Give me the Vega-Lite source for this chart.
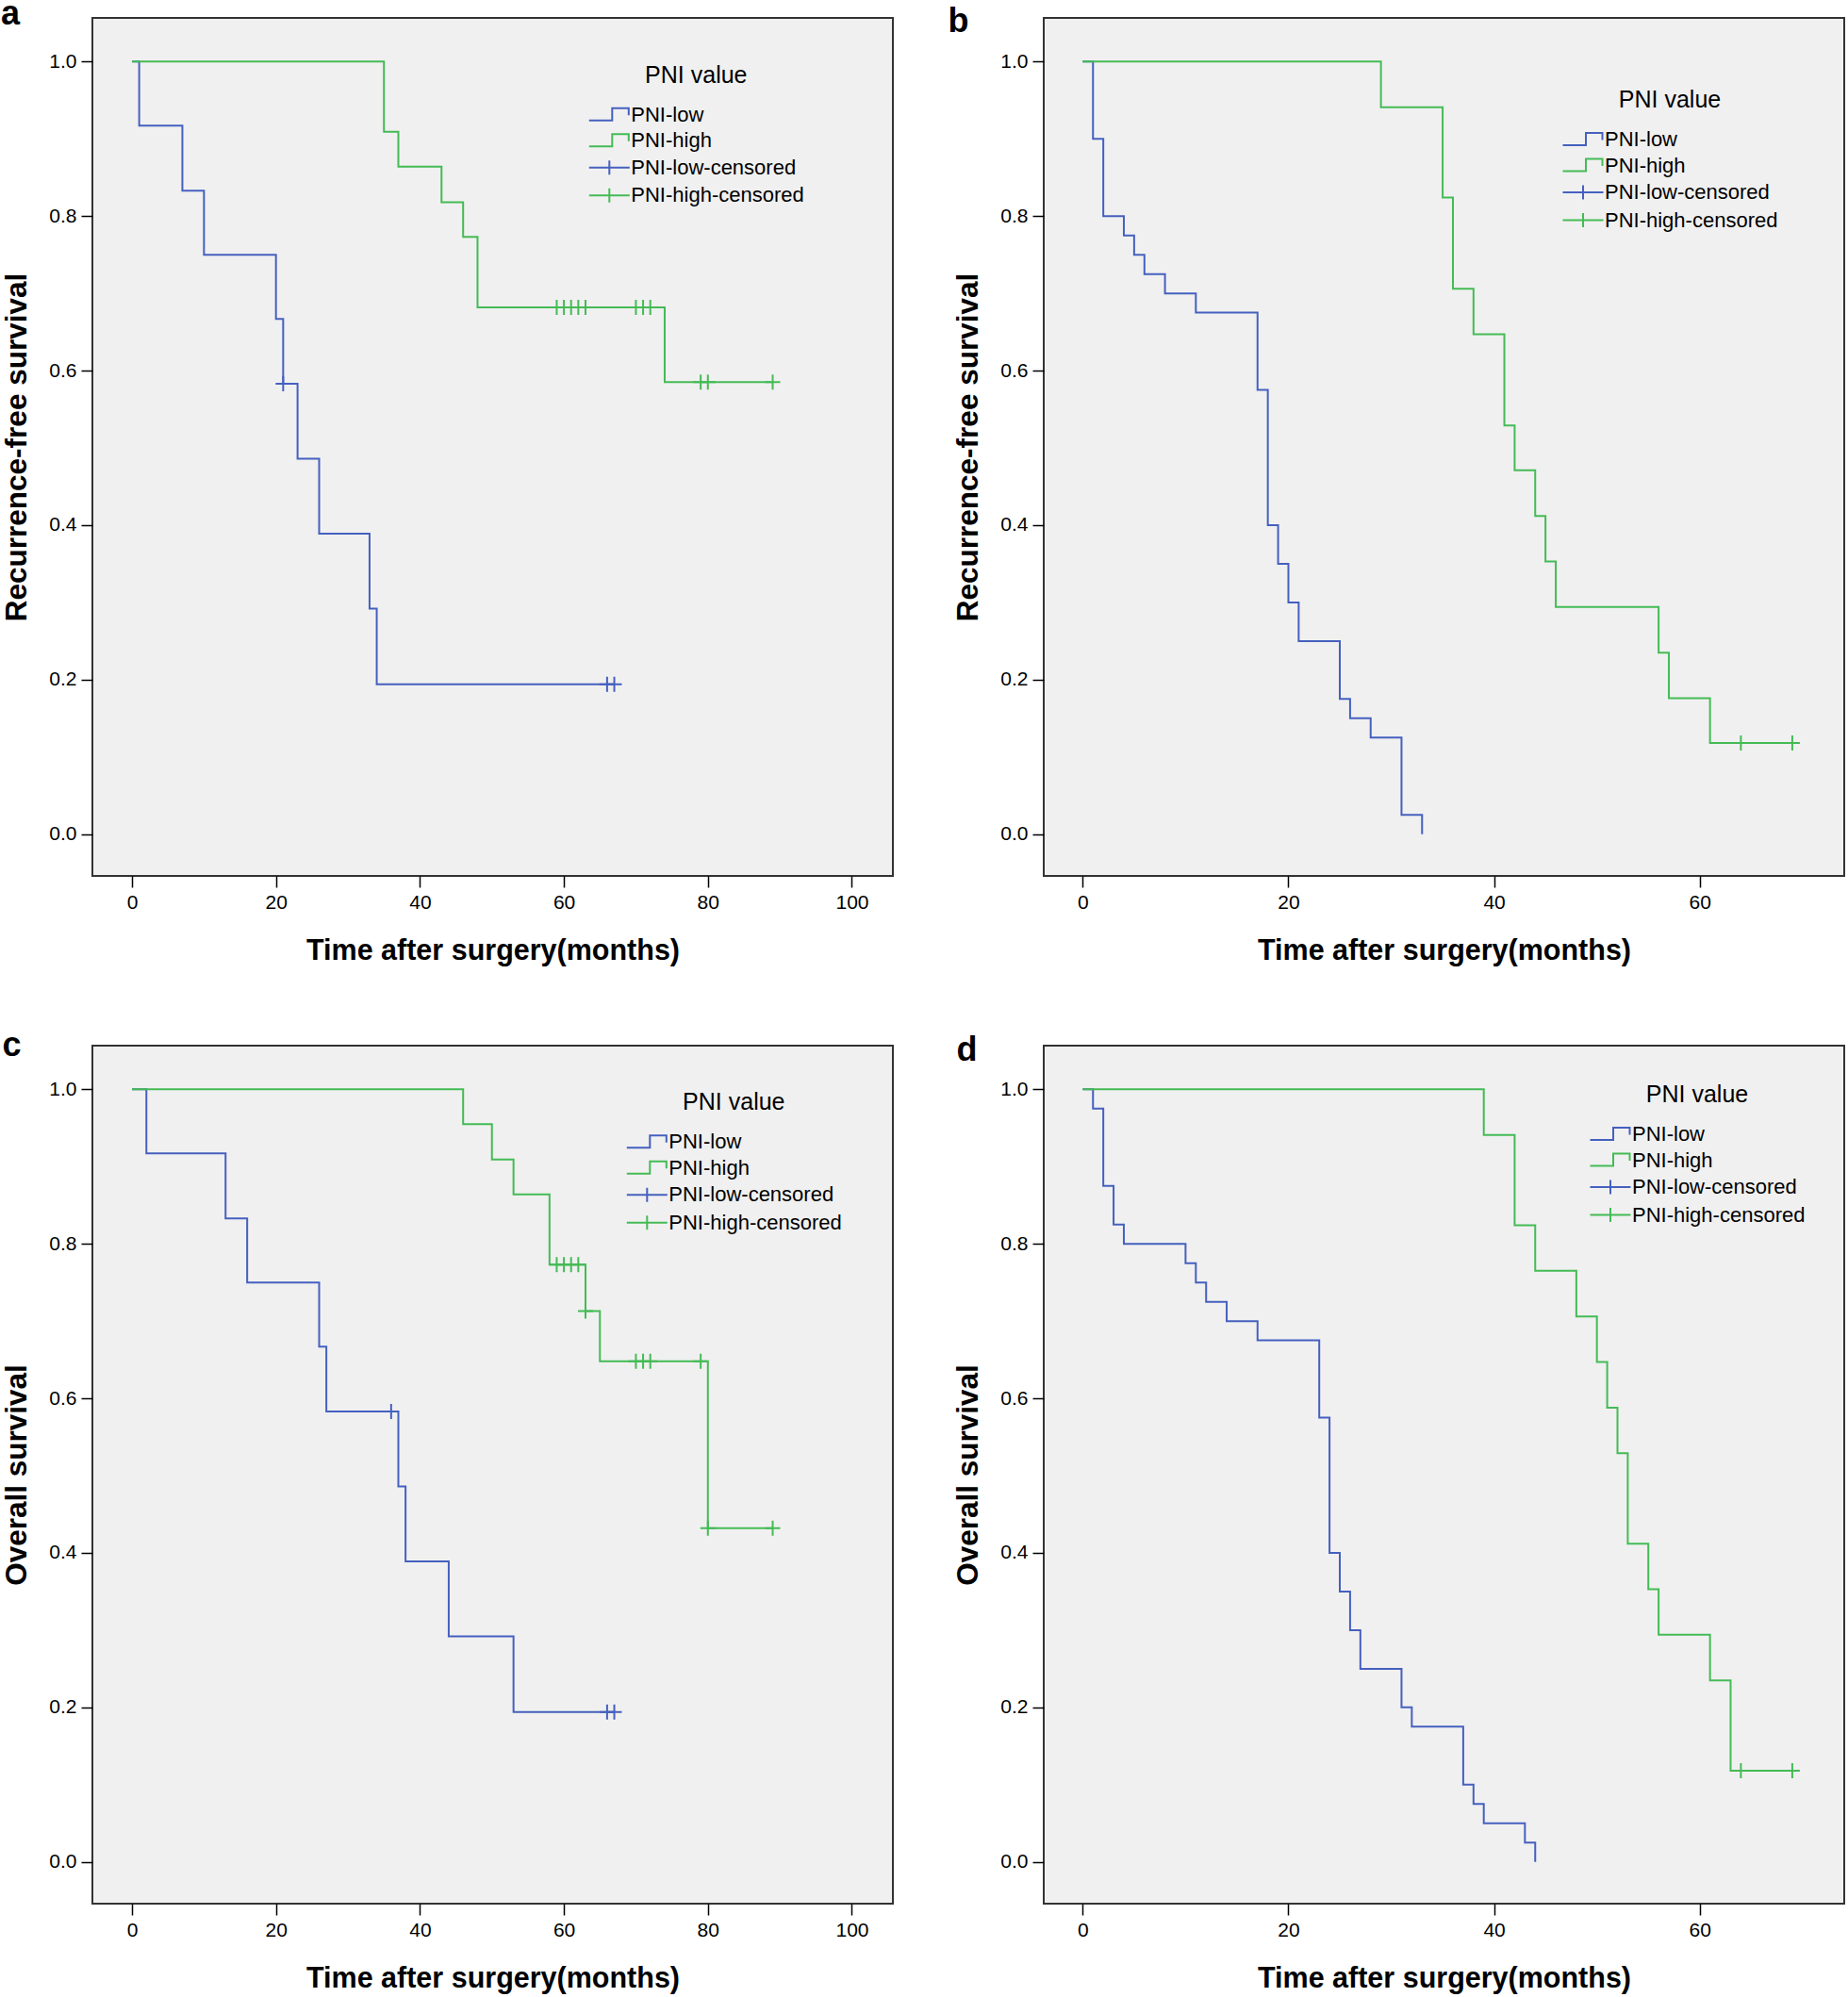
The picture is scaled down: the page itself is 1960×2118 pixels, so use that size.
{
  "$schema": "https://vega.github.io/schema/vega-lite/v6.json",
  "background": "white",
  "padding": {"left": 0, "top": -4, "right": 0, "bottom": 0},
  "autosize": {"type": "pad"},
  "bounds": "flush",
  "columns": 2,
  "spacing": {"row": 180, "column": 160},
  "resolve": {"scale": {"color": "independent"}, "legend": {"color": "independent"}},
  "config": {
    "view": {"stroke": "#333333", "strokeWidth": 2, "fill": "#f0f0f0"},
    "axis": {
      "grid": false, "domain": false, "tickColor": "#000000", "tickSize": 12, "tickWidth": 1.5,
      "labelFont": "Liberation Sans", "labelFontSize": 21, "labelColor": "#000000", "labelPadding": 5,
      "titleFont": "Liberation Sans", "titleFontSize": 30.5, "titleFontWeight": "bold", "titleColor": "#000000"
    },
    "axisLeft": {"titleFontSize": 31.5},
    "legend": {
      "orient": "none", "padding": 0,
      "titleFont": "Liberation Sans", "titleFontSize": 25, "titleFontWeight": "normal", "titleColor": "#000000",
      "titleAnchor": "middle", "titlePadding": 18, "titleLimit": 400,
      "labelFont": "Liberation Sans", "labelFontSize": 22, "labelColor": "#000000", "labelOffset": 12, "labelLimit": 400,
      "symbolSize": 400, "symbolStrokeWidth": 2, "rowPadding": 5.5
    },
    "title": {"font": "Liberation Sans", "fontSize": 36, "fontWeight": "bold", "color": "#000000", "anchor": "start", "frame": "group", "offset": 0, "baseline": "alphabetic"}
  },
  "datasets": {
    "a_lines": [
      {"series": "PNI-low", "t": 0, "s": 1}, {"series": "PNI-low", "t": 1, "s": 0.917}, {"series": "PNI-low", "t": 7, "s": 0.833},
      {"series": "PNI-low", "t": 10, "s": 0.75}, {"series": "PNI-low", "t": 20, "s": 0.667}, {"series": "PNI-low", "t": 21, "s": 0.583},
      {"series": "PNI-low", "t": 23, "s": 0.486}, {"series": "PNI-low", "t": 26, "s": 0.389}, {"series": "PNI-low", "t": 33, "s": 0.292},
      {"series": "PNI-low", "t": 34, "s": 0.194}, {"series": "PNI-low", "t": 67, "s": 0.194},
      {"series": "PNI-high", "t": 0, "s": 1}, {"series": "PNI-high", "t": 35, "s": 0.909}, {"series": "PNI-high", "t": 37, "s": 0.864},
      {"series": "PNI-high", "t": 43, "s": 0.818}, {"series": "PNI-high", "t": 46, "s": 0.773}, {"series": "PNI-high", "t": 48, "s": 0.682},
      {"series": "PNI-high", "t": 74, "s": 0.585}, {"series": "PNI-high", "t": 89, "s": 0.585}
    ],
    "a_cens": [
      {"series": "PNI-low-censored", "t": 21, "s": 0.583}, {"series": "PNI-low-censored", "t": 66, "s": 0.194}, {"series": "PNI-low-censored", "t": 67, "s": 0.194},
      {"series": "PNI-high-censored", "t": 59, "s": 0.682}, {"series": "PNI-high-censored", "t": 60, "s": 0.682}, {"series": "PNI-high-censored", "t": 61, "s": 0.682},
      {"series": "PNI-high-censored", "t": 62, "s": 0.682}, {"series": "PNI-high-censored", "t": 63, "s": 0.682}, {"series": "PNI-high-censored", "t": 70, "s": 0.682},
      {"series": "PNI-high-censored", "t": 71, "s": 0.682}, {"series": "PNI-high-censored", "t": 72, "s": 0.682}, {"series": "PNI-high-censored", "t": 79, "s": 0.585},
      {"series": "PNI-high-censored", "t": 80, "s": 0.585}, {"series": "PNI-high-censored", "t": 89, "s": 0.585}
    ],
    "b_lines": [
      {"series": "PNI-low", "t": 0, "s": 1}, {"series": "PNI-low", "t": 1, "s": 0.9}, {"series": "PNI-low", "t": 2, "s": 0.8},
      {"series": "PNI-low", "t": 4, "s": 0.775}, {"series": "PNI-low", "t": 5, "s": 0.75}, {"series": "PNI-low", "t": 6, "s": 0.725},
      {"series": "PNI-low", "t": 8, "s": 0.7}, {"series": "PNI-low", "t": 11, "s": 0.675}, {"series": "PNI-low", "t": 17, "s": 0.575},
      {"series": "PNI-low", "t": 18, "s": 0.4}, {"series": "PNI-low", "t": 19, "s": 0.35}, {"series": "PNI-low", "t": 20, "s": 0.3},
      {"series": "PNI-low", "t": 21, "s": 0.25}, {"series": "PNI-low", "t": 25, "s": 0.175}, {"series": "PNI-low", "t": 26, "s": 0.15},
      {"series": "PNI-low", "t": 28, "s": 0.125}, {"series": "PNI-low", "t": 31, "s": 0.025}, {"series": "PNI-low", "t": 33, "s": 0},
      {"series": "PNI-high", "t": 0, "s": 1}, {"series": "PNI-high", "t": 29, "s": 0.941}, {"series": "PNI-high", "t": 35, "s": 0.824},
      {"series": "PNI-high", "t": 36, "s": 0.706}, {"series": "PNI-high", "t": 38, "s": 0.647}, {"series": "PNI-high", "t": 41, "s": 0.529},
      {"series": "PNI-high", "t": 42, "s": 0.471}, {"series": "PNI-high", "t": 44, "s": 0.412}, {"series": "PNI-high", "t": 45, "s": 0.353},
      {"series": "PNI-high", "t": 46, "s": 0.294}, {"series": "PNI-high", "t": 56, "s": 0.235}, {"series": "PNI-high", "t": 57, "s": 0.176},
      {"series": "PNI-high", "t": 61, "s": 0.118}, {"series": "PNI-high", "t": 69, "s": 0.118}
    ],
    "b_cens": [
      {"series": "PNI-high-censored", "t": 64, "s": 0.118}, {"series": "PNI-high-censored", "t": 69, "s": 0.118}
    ],
    "c_lines": [
      {"series": "PNI-low", "t": 0, "s": 1}, {"series": "PNI-low", "t": 2, "s": 0.917}, {"series": "PNI-low", "t": 13, "s": 0.833},
      {"series": "PNI-low", "t": 16, "s": 0.75}, {"series": "PNI-low", "t": 26, "s": 0.667}, {"series": "PNI-low", "t": 27, "s": 0.583},
      {"series": "PNI-low", "t": 37, "s": 0.486}, {"series": "PNI-low", "t": 38, "s": 0.389}, {"series": "PNI-low", "t": 44, "s": 0.292},
      {"series": "PNI-low", "t": 53, "s": 0.194}, {"series": "PNI-low", "t": 67, "s": 0.194},
      {"series": "PNI-high", "t": 0, "s": 1}, {"series": "PNI-high", "t": 46, "s": 0.955}, {"series": "PNI-high", "t": 50, "s": 0.909},
      {"series": "PNI-high", "t": 53, "s": 0.864}, {"series": "PNI-high", "t": 58, "s": 0.773}, {"series": "PNI-high", "t": 63, "s": 0.713},
      {"series": "PNI-high", "t": 65, "s": 0.648}, {"series": "PNI-high", "t": 80, "s": 0.432}, {"series": "PNI-high", "t": 89, "s": 0.432}
    ],
    "c_cens": [
      {"series": "PNI-low-censored", "t": 36, "s": 0.583}, {"series": "PNI-low-censored", "t": 66, "s": 0.194}, {"series": "PNI-low-censored", "t": 67, "s": 0.194},
      {"series": "PNI-high-censored", "t": 59, "s": 0.773}, {"series": "PNI-high-censored", "t": 60, "s": 0.773}, {"series": "PNI-high-censored", "t": 61, "s": 0.773},
      {"series": "PNI-high-censored", "t": 62, "s": 0.773}, {"series": "PNI-high-censored", "t": 63, "s": 0.713}, {"series": "PNI-high-censored", "t": 70, "s": 0.648},
      {"series": "PNI-high-censored", "t": 71, "s": 0.648}, {"series": "PNI-high-censored", "t": 72, "s": 0.648}, {"series": "PNI-high-censored", "t": 79, "s": 0.648},
      {"series": "PNI-high-censored", "t": 80, "s": 0.432}, {"series": "PNI-high-censored", "t": 89, "s": 0.432}
    ],
    "d_lines": [
      {"series": "PNI-low", "t": 0, "s": 1}, {"series": "PNI-low", "t": 1, "s": 0.975}, {"series": "PNI-low", "t": 2, "s": 0.875},
      {"series": "PNI-low", "t": 3, "s": 0.825}, {"series": "PNI-low", "t": 4, "s": 0.8}, {"series": "PNI-low", "t": 10, "s": 0.775},
      {"series": "PNI-low", "t": 11, "s": 0.75}, {"series": "PNI-low", "t": 12, "s": 0.725}, {"series": "PNI-low", "t": 14, "s": 0.7},
      {"series": "PNI-low", "t": 17, "s": 0.675}, {"series": "PNI-low", "t": 23, "s": 0.575}, {"series": "PNI-low", "t": 24, "s": 0.4},
      {"series": "PNI-low", "t": 25, "s": 0.35}, {"series": "PNI-low", "t": 26, "s": 0.3}, {"series": "PNI-low", "t": 27, "s": 0.25},
      {"series": "PNI-low", "t": 31, "s": 0.2}, {"series": "PNI-low", "t": 32, "s": 0.175}, {"series": "PNI-low", "t": 37, "s": 0.1},
      {"series": "PNI-low", "t": 38, "s": 0.075}, {"series": "PNI-low", "t": 39, "s": 0.05}, {"series": "PNI-low", "t": 43, "s": 0.025},
      {"series": "PNI-low", "t": 44, "s": 0},
      {"series": "PNI-high", "t": 0, "s": 1}, {"series": "PNI-high", "t": 39, "s": 0.941}, {"series": "PNI-high", "t": 42, "s": 0.824},
      {"series": "PNI-high", "t": 44, "s": 0.765}, {"series": "PNI-high", "t": 48, "s": 0.706}, {"series": "PNI-high", "t": 50, "s": 0.647},
      {"series": "PNI-high", "t": 51, "s": 0.588}, {"series": "PNI-high", "t": 52, "s": 0.529}, {"series": "PNI-high", "t": 53, "s": 0.412},
      {"series": "PNI-high", "t": 55, "s": 0.353}, {"series": "PNI-high", "t": 56, "s": 0.294}, {"series": "PNI-high", "t": 61, "s": 0.235},
      {"series": "PNI-high", "t": 63, "s": 0.118}, {"series": "PNI-high", "t": 69, "s": 0.118}
    ],
    "d_cens": [
      {"series": "PNI-high-censored", "t": 64, "s": 0.118}, {"series": "PNI-high-censored", "t": 69, "s": 0.118}
    ]
  },
  "concat": [
    {
      "width": 849, "height": 910,
      "title": {"text": "a", "dx": -97, "dy": 19},
      "encoding": {
        "x": {"field": "t", "type": "quantitative", "scale": {"domain": [-5.5, 105.7], "nice": false, "zero": false},
              "axis": {"title": "Time after surgery(months)", "values": [0, 20, 40, 60, 80, 100], "format": "d", "titleY": 88.5, "titleBaseline": "alphabetic"}},
        "y": {"field": "s", "type": "quantitative", "scale": {"domain": [-0.054, 1.0565], "nice": false, "zero": false},
              "axis": {"title": "Recurrence-free survival", "values": [0, 0.2, 0.4, 0.6, 0.8, 1.0], "format": ".1f", "titleX": -71, "titleBaseline": "alphabetic"}},
        "color": {"field": "series", "type": "nominal",
                  "scale": {"domain": ["PNI-low", "PNI-high", "PNI-low-censored", "PNI-high-censored"], "range": ["#4560bf", "#44bb55", "#4560bf", "#44bb55"]},
                  "legend": {"title": "PNI value", "legendX": 537.3, "legendY": 48.8,
                             "encode": {"title": {"update": {"dx": {"value": -6}}},
                                        "symbols": {"update": {"shape": {"signal": "indexof(datum.value, 'censored') >= 0 ? 'M-2.15,0H2.15M0,-0.75V0.75' : 'M-2.15,0.6H0.3V-0.7H2.05V0.05'"}, "fill": {"value": "transparent"}, "strokeWidth": {"value": 2}}}}}}
      },
      "layer": [
        {"data": {"name": "a_lines"}, "mark": {"type": "line", "interpolate": "step-after", "strokeWidth": 2}},
        {"data": {"name": "a_cens"}, "mark": {"type": "point", "shape": "M-0.8,0H0.8M0,-0.8V0.8", "size": 400, "filled": false, "strokeWidth": 2, "opacity": 1}}
      ]
    },
    {
      "width": 849, "height": 910,
      "title": {"text": "b", "dx": -101.5, "dy": 26.5},
      "encoding": {
        "x": {"field": "t", "type": "quantitative", "scale": {"domain": [-3.79, 74.05], "nice": false, "zero": false},
              "axis": {"title": "Time after surgery(months)", "values": [0, 20, 40, 60], "format": "d", "titleY": 88.5, "titleBaseline": "alphabetic"}},
        "y": {"field": "s", "type": "quantitative", "scale": {"domain": [-0.054, 1.0565], "nice": false, "zero": false},
              "axis": {"title": "Recurrence-free survival", "values": [0, 0.2, 0.4, 0.6, 0.8, 1.0], "format": ".1f", "titleX": -71, "titleBaseline": "alphabetic"}},
        "color": {"field": "series", "type": "nominal",
                  "scale": {"domain": ["PNI-low", "PNI-high", "PNI-low-censored", "PNI-high-censored"], "range": ["#4560bf", "#44bb55", "#4560bf", "#44bb55"]},
                  "legend": {"title": "PNI value", "legendX": 561, "legendY": 75,
                             "encode": {"title": {"update": {"dx": {"value": -6}}},
                                        "symbols": {"update": {"shape": {"signal": "indexof(datum.value, 'censored') >= 0 ? 'M-2.15,0H2.15M0,-0.75V0.75' : 'M-2.15,0.6H0.3V-0.7H2.05V0.05'"}, "fill": {"value": "transparent"}, "strokeWidth": {"value": 2}}}}}}
      },
      "layer": [
        {"data": {"name": "b_lines"}, "mark": {"type": "line", "interpolate": "step-after", "strokeWidth": 2}},
        {"data": {"name": "b_cens"}, "mark": {"type": "point", "shape": "M-0.8,0H0.8M0,-0.8V0.8", "size": 400, "filled": false, "strokeWidth": 2, "opacity": 1}}
      ]
    },
    {
      "width": 849, "height": 910,
      "title": {"text": "c", "dx": -95.5, "dy": 22.5},
      "encoding": {
        "x": {"field": "t", "type": "quantitative", "scale": {"domain": [-5.5, 105.7], "nice": false, "zero": false},
              "axis": {"title": "Time after surgery(months)", "values": [0, 20, 40, 60, 80, 100], "format": "d", "titleY": 88.5, "titleBaseline": "alphabetic"}},
        "y": {"field": "s", "type": "quantitative", "scale": {"domain": [-0.054, 1.0565], "nice": false, "zero": false},
              "axis": {"title": "Overall survival", "values": [0, 0.2, 0.4, 0.6, 0.8, 1.0], "format": ".1f", "titleX": -71, "titleBaseline": "alphabetic"}},
        "color": {"field": "series", "type": "nominal",
                  "scale": {"domain": ["PNI-low", "PNI-high", "PNI-low-censored", "PNI-high-censored"], "range": ["#4560bf", "#44bb55", "#4560bf", "#44bb55"]},
                  "legend": {"title": "PNI value", "legendX": 577.3, "legendY": 48.3,
                             "encode": {"title": {"update": {"dx": {"value": -6}}},
                                        "symbols": {"update": {"shape": {"signal": "indexof(datum.value, 'censored') >= 0 ? 'M-2.15,0H2.15M0,-0.75V0.75' : 'M-2.15,0.6H0.3V-0.7H2.05V0.05'"}, "fill": {"value": "transparent"}, "strokeWidth": {"value": 2}}}}}}
      },
      "layer": [
        {"data": {"name": "c_lines"}, "mark": {"type": "line", "interpolate": "step-after", "strokeWidth": 2}},
        {"data": {"name": "c_cens"}, "mark": {"type": "point", "shape": "M-0.8,0H0.8M0,-0.8V0.8", "size": 400, "filled": false, "strokeWidth": 2, "opacity": 1}}
      ]
    },
    {
      "width": 849, "height": 910,
      "title": {"text": "d", "dx": -92.5, "dy": 27.5},
      "encoding": {
        "x": {"field": "t", "type": "quantitative", "scale": {"domain": [-3.79, 74.05], "nice": false, "zero": false},
              "axis": {"title": "Time after surgery(months)", "values": [0, 20, 40, 60], "format": "d", "titleY": 88.5, "titleBaseline": "alphabetic"}},
        "y": {"field": "s", "type": "quantitative", "scale": {"domain": [-0.054, 1.0565], "nice": false, "zero": false},
              "axis": {"title": "Overall survival", "values": [0, 0.2, 0.4, 0.6, 0.8, 1.0], "format": ".1f", "titleX": -71, "titleBaseline": "alphabetic"}},
        "color": {"field": "series", "type": "nominal",
                  "scale": {"domain": ["PNI-low", "PNI-high", "PNI-low-censored", "PNI-high-censored"], "range": ["#4560bf", "#44bb55", "#4560bf", "#44bb55"]},
                  "legend": {"title": "PNI value", "legendX": 590, "legendY": 40.1,
                             "encode": {"title": {"update": {"dx": {"value": -6}}},
                                        "symbols": {"update": {"shape": {"signal": "indexof(datum.value, 'censored') >= 0 ? 'M-2.15,0H2.15M0,-0.75V0.75' : 'M-2.15,0.6H0.3V-0.7H2.05V0.05'"}, "fill": {"value": "transparent"}, "strokeWidth": {"value": 2}}}}}}
      },
      "layer": [
        {"data": {"name": "d_lines"}, "mark": {"type": "line", "interpolate": "step-after", "strokeWidth": 2}},
        {"data": {"name": "d_cens"}, "mark": {"type": "point", "shape": "M-0.8,0H0.8M0,-0.8V0.8", "size": 400, "filled": false, "strokeWidth": 2, "opacity": 1}}
      ]
    }
  ]
}
